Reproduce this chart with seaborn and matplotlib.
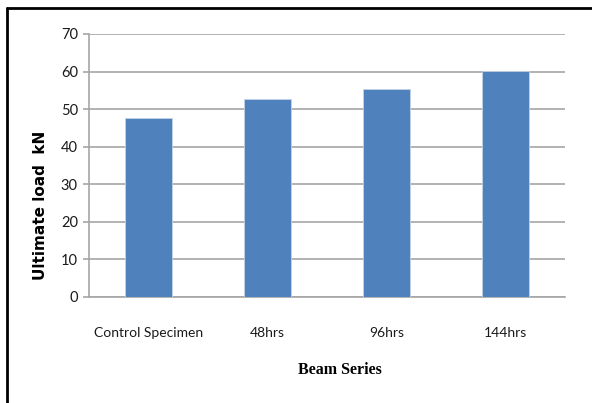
import matplotlib
matplotlib.use("Agg")
import matplotlib.pyplot as plt
from matplotlib.lines import Line2D
import seaborn as sns
import pandas as pd

categories = ["Control Specimen", "48hrs", "96hrs", "144hrs"]
ultimate_load = [47.5, 52.8, 55.3, 60.2]
y_ticks = [0, 10, 20, 30, 40, 50, 60, 70]

df = pd.DataFrame({"series": categories, "load": ultimate_load})

sns.set_theme(style="white")
plt.rcParams["font.family"] = ["Lato", "DejaVu Sans"]

W, H = 592, 403
fig = plt.figure(figsize=(W / 100, H / 100), dpi=100)
ax = fig.add_axes([89 / W, 1 - 296.7 / H, (565 - 89) / W, (296.7 - 34) / H])

sns.barplot(data=df, x="series", y="load", color="#4f81bd", width=0.4,
            saturation=1, ax=ax, zorder=3)
for p in ax.patches:
    p.set_edgecolor("#c3d3e8")
    p.set_linewidth(0.6)

ax.set_ylim(0, 70)
ax.set_xlim(-0.5, 3.5)
ax.set_yticks(y_ticks)
ax.yaxis.grid(True, color="#a6a6a6", linewidth=1.2, zorder=0)
ax.set_axisbelow(True)

for side in ["top", "right"]:
    ax.spines[side].set_visible(False)
ax.spines["left"].set_color("#a6a6a6")
ax.spines["bottom"].set_color("#a6a6a6")
ax.spines["left"].set_linewidth(1.2)
ax.spines["bottom"].set_linewidth(1.2)

ax.tick_params(axis="y", length=4, width=1.2, color="#a6a6a6", labelsize=10.5,
               labelcolor="#1a1a1a", pad=4, left=True)
ax.tick_params(axis="x", length=0, labelsize=10, labelcolor="#1a1a1a", pad=22)

ax.set_xlabel("")
ax.set_ylabel("")

fig.text(41 / W, 1 - 205 / H, "Ultimate load  kN", rotation=90, ha="center",
         va="center", fontsize=11, fontweight="bold",
         family=["DejaVu Sans"], color="#000000")
fig.text(340 / W, 1 - 370 / H, "Beam Series", ha="center", va="center",
         fontsize=11.5, fontweight="bold", family=["Liberation Serif"],
         color="#000000")

# outer frame
fig.add_artist(Line2D([7 / W, 7 / W], [0, 1 - 7.5 / H], color="black",
                      linewidth=2, transform=fig.transFigure))
fig.add_artist(Line2D([7 / W, 1], [1 - 7.5 / H, 1 - 7.5 / H], color="black",
                      linewidth=2, transform=fig.transFigure))

fig.savefig("out.png", dpi=100)
